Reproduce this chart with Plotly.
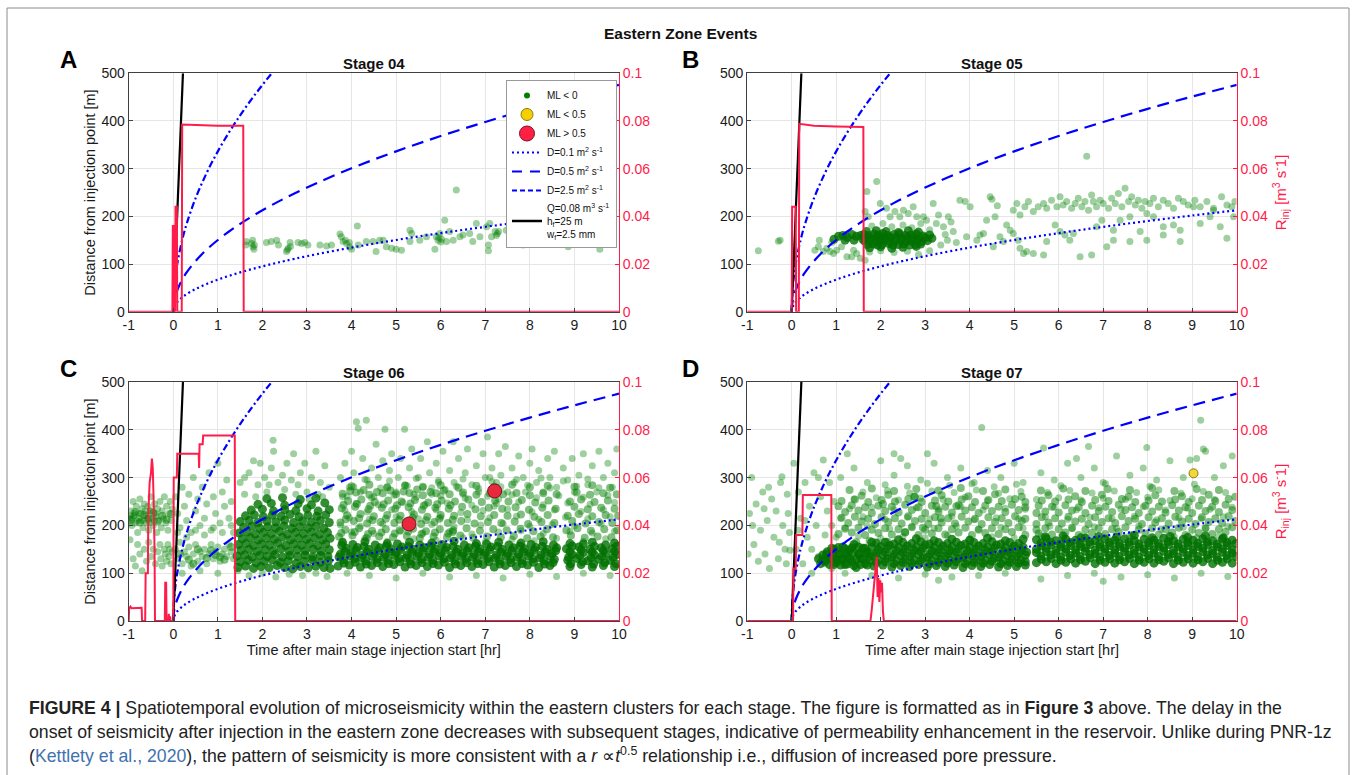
import plotly.graph_objects as go

W, H = 1356, 775

# ---------------- data ----------------
# model curves r(t) (t in hours, r in metres)
CURVE_T = [0, 0.005, 0.01, 0.02, 0.05, 0.1, 0.2, 0.3, 0.5, 0.75, 1, 1.25, 1.5, 1.75, 2, 2.25, 2.5, 3, 4, 5, 6, 7, 8, 9, 10]
R_D01 = [0, 4.8, 6.7, 9.5, 15.0, 21.3, 30.1, 36.8, 47.6, 58.2, 67.3, 75.2, 82.4, 89.0, 95.1, 100.9, 106.3, 116.5, 134.5, 150.4, 164.8, 178.0, 190.2, 201.8, 212.7]
R_D05 = [0, 10.6, 15.0, 21.3, 33.6, 47.6, 67.3, 82.4, 106.3, 130.3, 150.4, 168.2, 184.2, 199.0, 212.7, 225.6, 237.8, 260.5, 300.8, 336.3, 368.4, 397.9, 425.4, 451.2, 475.6]
CURVE_T25 = [0, 0.005, 0.01, 0.02, 0.05, 0.1, 0.2, 0.3, 0.5, 0.75, 1, 1.25, 1.5, 1.75, 2, 2.25, 2.5]
R_D25 = [0, 23.8, 33.6, 47.6, 75.2, 106.3, 150.4, 184.2, 237.8, 291.2, 336.3, 376.0, 411.9, 444.9, 475.6, 504.5, 531.7]
FRAC_T = [0, 0.217]
FRAC_R = [0, 500]

# injection rate (m3/s)
A_RATE_T = [-1, -0.02, -0.01, 0.01, 0.02, 0.04, 0.05, 0.08, 0.09, 0.19, 0.2, 0.6, 1.0, 1.57, 1.58, 10]
A_RATE_Q = [0, 0, 0.036, 0.036, 0, 0, 0.044, 0.044, 0, 0, 0.0785, 0.0782, 0.078, 0.078, 0, 0]
B_RATE_T = [-1, 0, 0.01, 0.09, 0.1, 0.16, 0.17, 0.5, 1.0, 1.61, 1.62, 10]
B_RATE_Q = [0, 0, 0.044, 0.044, 0, 0, 0.0788, 0.078, 0.0777, 0.0775, 0, 0]
C_RATE_T = [-1, -0.99, -0.96, -0.93, -0.71, -0.70, -0.63, -0.62, -0.57, -0.56, -0.53, -0.5, -0.48, -0.46, -0.44, -0.42, -0.41,
            -0.19, -0.18, -0.16, -0.15, -0.11, -0.1, -0.09, -0.07, -0.06, 0.0, 0.01, 0.08, 0.09, 0.57, 0.58, 0.59, 0.66, 0.67, 1.38, 1.39, 10]
C_RATE_Q = [0, 0.005, 0.006, 0.0053, 0.0055, 0, 0, 0.02, 0.02, 0.045, 0.058, 0.062, 0.068, 0.064, 0.05, 0.03, 0,
            0, 0.016, 0.016, 0, 0, 0.003, 0, 0.002, 0, 0, 0.06, 0.06, 0.07, 0.07, 0.064, 0.074, 0.074, 0.0776, 0.0776, 0, 0]
D_RATE_T = [-1, 0.03, 0.04, 0.09, 0.1, 0.24, 0.25, 0.89, 0.9, 1.77, 1.8, 1.84, 1.88, 1.91, 1.93, 1.95, 1.97, 1.99, 2.01, 2.03, 2.05, 2.07, 10]
D_RATE_Q = [0, 0, 0.022, 0.022, 0.036, 0.036, 0.0527, 0.0527, 0, 0, 0.005, 0.012, 0.02, 0.027, 0.01, 0.018, 0.008, 0.017, 0.012, 0.016, 0.004, 0, 0]

# events (t [hr], r [m]), ML < 0
A_EVENTS = [
    (1.63,140),(1.64,147),(1.78,150),(1.79,136),(1.81,131),(1.76,143),(1.82,140),
    (2.09,145),(2.20,147),(2.32,150),(2.36,140),(2.54,126),(2.58,133),(2.62,145),(2.63,137),(2.56,130),
    (2.80,145),(2.88,143),(2.95,145),(3.02,140),(3.29,140),(3.44,138),(3.55,140),
    (3.74,163),(3.77,157),(3.81,147),(3.86,150),(3.89,143),(3.95,145),(3.96,136),(4.00,131),(4.13,180),(4.15,140),
    (4.33,147),(4.48,147),(4.55,126),(4.63,150),(4.71,150),(4.78,136),(4.90,133),(5.00,131),(5.12,129),
    (5.31,171),(5.31,147),(5.35,164),(5.53,150),(5.68,157),
    (5.87,131),(5.90,157),(5.94,150),(5.96,155),(5.98,164),(6.00,146),(6.02,152),(6.09,192),(6.13,147),
    (6.20,168),(6.35,255),(6.28,150),(6.43,157),(6.50,161),
    (6.65,164),(6.72,147),(6.80,185),(6.88,157),
    (7.03,178),(7.07,140),(7.07,128),(7.10,185),(7.14,157),(7.22,168),(7.27,164),(7.30,168),(7.25,160),
    (7.47,171),(7.66,164),(7.85,140),(7.93,171),
    (8.07,168),(8.18,164),(8.25,164),
    (8.52,171),(8.56,164),(8.60,175),(8.67,171),(8.52,166),(8.82,171),(8.86,136),(8.86,143),
    (8.97,185),(9.15,175),(9.19,157),(9.34,168),(9.42,157),(9.57,164),(9.57,131),(9.65,157),(9.72,164),(9.79,171),
]

B_EVENTS = [
    (-0.75,128),(-0.3,148),(-0.26,150),
    (0.52,129),(0.60,136),(0.71,126),(0.79,133),(0.86,126),(0.94,122),(1.01,129),(1.12,136),(1.24,115),(1.35,115),
    (1.39,129),(1.46,122),(1.54,112),(1.65,108),(0.62,150),(0.90,145),
    (1.69,252),(1.65,210),(1.72,199),(1.91,273),(1.99,227),(2.13,217),(2.21,199),(2.32,210),(2.43,199),(2.51,213),
    (2.62,206),(2.73,220),(2.81,199),(2.96,199),(3.03,192),(3.18,227),(3.30,203),(3.41,178),(3.52,199),(3.58,188),
    (3.63,168),(3.78,234),(3.90,231),(4.01,220),(4.16,150),(4.31,164),(4.38,192),(4.46,241),(4.57,199),(4.68,157),
    (4.76,147),(4.91,171),(4.98,164),(5.09,150),(5.13,133),(5.21,122),(5.28,126),(5.43,122),(5.66,119),(5.73,147),
    (5.92,182),(6.03,168),(6.14,161),(6.25,150),(6.33,164),(6.48,115),(6.63,326),(6.74,119),(6.85,178),(6.97,192),
    (7.08,136),(7.23,171),(7.38,192),(7.60,199),(7.83,168),(7.98,206),(8.13,199),(8.35,178),(8.58,182),(8.73,171),
    (9.03,220),(9.40,199),(9.48,213),(9.63,178),(9.78,154),(9.93,199),
    (3.93,157),(4.23,161),(4.53,136),(4.83,182),(7.23,150),(7.60,147),(7.98,150),(8.35,161),(8.73,147),(9.18,185),
    (1.80,180),(2.05,185),(2.25,178),(2.50,182),(2.70,176),(2.90,185),(3.10,172),(1.75,125),(2.00,128),(2.30,124),
    (2.60,127),(2.85,120),(3.10,128),(3.35,140),(3.50,150),(3.45,162),(3.70,145),(3.25,185),
    (4.98,213),(5.06,227),(5.13,203),(5.24,220),(5.32,231),(5.43,210),(5.54,220),(5.66,227),(5.73,217),(5.84,234),
    (5.96,220),(6.03,241),(6.10,224),(6.18,231),(6.29,217),(6.37,227),(6.44,238),(6.52,220),(6.59,231),(6.67,213),
    (6.74,245),(6.78,231),(6.85,220),(6.93,234),(7.00,227),(7.12,217),(7.19,238),(7.27,227),(7.34,248),(7.42,220),
    (7.49,259),(7.57,231),(7.64,241),(7.72,224),(7.79,234),(7.87,217),(7.94,231),(8.05,227),(8.13,238),(8.24,220),
    (8.35,234),(8.46,227),(8.58,217),(8.69,238),(8.80,231),(8.91,224),(9.06,234),(9.18,220),(9.33,231),(9.48,217),
    (9.66,241),(9.78,224),(9.89,220),(9.96,231),(4.50,236),(4.62,222),
]
B_CORE = [
    (1.62,162),(1.72,160),(1.85,163),(1.95,161),(2.05,164),(2.15,160),(2.30,162),(2.42,163),(2.55,160),(2.68,161),(2.80,163),(2.95,159),(3.10,161),
    (1.66,155),(1.78,154),(1.90,156),(2.00,155),(2.10,153),(2.22,156),(2.35,155),(2.48,154),(2.60,156),(2.72,155),(2.85,153),(3.00,155),(3.15,154),
    (1.64,148),(1.75,149),(1.88,147),(1.98,148),(2.08,150),(2.20,147),(2.32,148),(2.45,149),(2.58,147),(2.70,148),(2.82,150),(2.92,147),(3.05,149),
    (1.70,141),(1.82,142),(1.93,140),(2.03,141),(2.18,143),(2.28,140),(2.40,141),(2.52,142),(2.65,140),(2.78,141),(2.90,142),
    (1.68,168),(1.90,170),(2.12,168),(2.40,166),(2.62,170),(2.85,167),(1.75,134),(2.00,136),(2.25,133),(2.50,135),(2.80,137),
    (1.05,158),(1.15,160),(1.25,156),(1.35,162),(1.45,158),(1.55,160),(1.60,152),(0.95,152),(1.20,150),(1.40,150),
]

C_EVENTS = [
    # before injection
    (-0.98,215),(-0.95,230),(-0.93,200),(-0.90,250),(-0.88,220),(-0.85,205),(-0.83,240),(-0.80,185),(-0.78,225),(-0.75,255),
    (-0.72,210),(-0.70,235),(-0.68,195),(-0.65,245),(-0.62,220),(-0.60,205),(-0.57,240),(-0.55,190),(-0.52,230),(-0.50,260),
    (-0.47,215),(-0.45,200),(-0.42,245),(-0.40,225),(-0.37,185),(-0.35,235),(-0.32,210),(-0.30,250),(-0.27,195),(-0.25,230),
    (-0.22,215),(-0.20,260),(-0.17,205),(-0.15,240),(-0.12,190),(-0.10,225),(-0.07,250),(-0.05,210),(-0.02,235),
    (-0.99,205),(-0.96,220),(-0.92,215),(-0.87,225),(-0.82,210),(-0.77,215),(-0.73,225),(-0.67,210),(-0.63,230),(-0.58,215),
    (-0.53,205),(-0.48,230),(-0.43,210),(-0.38,220),
    (-0.97,170),(-0.90,130),(-0.85,115),(-0.80,160),(-0.75,140),(-0.70,105),(-0.65,150),(-0.60,125),(-0.55,165),(-0.50,135),
    (-0.45,150),(-0.40,120),(-0.35,145),(-0.30,160),(-0.28,130),(-0.25,115),(-0.20,150),(-0.18,140),(-0.15,125),(-0.12,160),
    (-0.10,135),(-0.08,150),(-0.05,120),(-0.03,145),
    # 0 - 1.4 h
    (0.05,260),(0.10,225),(0.15,195),(0.20,280),(0.25,240),(0.30,210),(0.35,265),(0.40,185),(0.45,300),(0.50,230),
    (0.55,255),(0.60,200),(0.65,280),(0.70,215),(0.75,245),(0.80,310),(0.85,190),(0.90,260),(0.95,225),(1.00,330),
    (1.05,205),(1.10,270),(1.15,240),(1.20,295),(1.25,215),(1.30,250),(1.35,185),
    (0.05,150),(0.10,130),(0.15,165),(0.20,120),(0.25,145),(0.30,135),(0.35,155),(0.40,115),(0.45,140),(0.50,160),
    (0.55,125),(0.60,145),(0.65,135),(0.70,150),(0.75,120),(0.80,140),(0.85,160),(0.90,130),(0.95,145),(1.00,155),
    (1.05,125),(1.10,140),(1.15,150),(1.20,135),(1.25,160),(1.30,145),(1.35,130),
    (0.10,185),(0.30,175),(0.50,190),(0.70,180),(0.90,195),(1.10,185),(1.30,200),(0.20,100),(0.60,105),(1.00,100),
    # 1.4 - 3.55 h outer
    (1.50,290),(1.60,265),(1.70,310),(1.80,335),(1.90,285),(1.95,330),(2.05,300),(2.10,270),(2.20,320),(2.25,355),
    (2.35,290),(2.45,305),(2.50,275),(2.55,330),(2.65,295),(2.70,350),(2.80,285),(2.85,310),(2.95,330),(3.00,270),
    (3.10,300),(3.20,355),(3.30,290),(3.40,325),(3.50,280),(1.45,105),(1.70,95),(2.00,100),(2.30,92),(2.60,98),
    (2.90,95),(3.20,100),(3.45,93),(1.60,300),(3.25,265),(2.15,285),(2.75,265),(1.85,260),(3.05,255),(3.35,260),(2.24,378),
    # 3.7 - 10 h upper
    (3.75,300),(3.80,260),(3.85,330),(3.95,280),(4.00,355),(4.05,310),(4.11,417),(4.15,403),(4.20,270),(4.25,340),
    (4.33,420),(4.35,295),(4.45,320),(4.50,260),(4.55,370),(4.60,300),(4.70,335),(4.75,401),(4.80,280),(4.85,315),
    (4.90,350),(5.00,270),(5.05,300),(5.10,340),(5.19,401),(5.20,285),(5.30,320),(5.35,360),(5.40,265),(5.50,300),
    (5.55,340),(5.60,280),(5.70,375),(5.75,310),(5.80,265),(5.90,330),(5.95,290),(6.05,355),(6.10,275),(6.20,315),
    (6.28,375),(6.30,290),(6.40,340),(6.50,265),(6.55,310),(6.60,360),(6.70,285),(6.80,325),(6.85,270),(6.95,350),
    (7.00,300),(7.05,385),(7.15,320),(7.25,280),(7.30,350),(7.35,305),(7.45,365),(7.50,270),(7.60,320),(7.65,290),
    (7.75,345),(7.85,300),(7.90,270),(8.00,330),(8.05,360),(8.15,290),(8.20,315),(8.30,270),(8.40,340),(8.45,300),
    (8.55,355),(8.60,280),(8.75,320),(8.85,295),(8.95,340),(9.00,270),(9.10,305),(9.20,350),(9.30,285),(9.40,325),
    (9.50,270),(9.55,355),(9.65,300),(9.75,330),(9.85,280),(9.95,360),(9.90,310),
    (3.90,100),(4.40,95),(5.00,90),(5.60,100),(6.20,92),(6.80,95),(7.40,90),(8.00,98),(8.60,93),(9.20,100),(9.80,95),
    # 3.7 - 10 h middle
    (3.80,168),(4.30,173),(4.80,167),(5.40,172),(5.90,169),(6.50,174),(7.00,166),(7.60,171),(8.10,168),(8.60,173),(9.20,167),(9.70,172),
    (4.00,186),(4.50,183),(5.10,188),(5.60,184),(6.20,187),(6.70,182),(7.30,186),(7.80,189),(8.30,183),(8.90,187),(9.40,184),(9.90,188),
    (3.75,201),(4.20,198),(4.70,203),(5.20,199),(5.80,202),(6.30,197),(6.90,201),(7.40,204),(8.00,198),(8.50,202),(9.00,199),(9.60,203),
    (3.95,216),(4.40,213),(5.00,218),(5.50,214),(6.00,217),(6.60,212),(7.10,216),(7.70,219),(8.20,213),(8.80,217),(9.30,214),(9.80,218),
    (3.85,231),(4.35,228),(4.90,233),(5.35,229),(5.90,232),(6.45,227),(6.95,231),(7.50,234),(8.05,228),(8.55,232),(9.15,229),(9.65,233),
    (4.10,246),(4.60,243),(5.15,248),(5.65,244),(6.15,247),(6.70,242),(7.25,246),(7.75,249),(8.30,243),(8.85,247),(9.35,244),(9.90,248),
    (3.90,261),(4.45,258),(4.95,263),(5.45,259),(6.00,262),(6.55,257),(7.05,261),(7.60,264),(8.15,258),(8.65,262),(9.20,259),(9.75,263),
    (4.05,281),(4.65,278),(5.25,283),(5.80,279),(6.35,282),(6.85,277),(7.35,281),(7.95,284),(8.45,278),(9.05,282),(9.55,279),
    (4.30,296),(4.85,293),(5.45,298),(5.95,294),(6.50,297),(7.15,292),(7.70,296),(8.25,299),(8.75,293),(9.30,297),
    (7.15,270),(7.25,290),(7.10,300),(7.30,255),(7.20,240),
]
C_MID = [
    (3.72,176),(4.02,179),(4.34,174),(4.62,177),(4.93,175),(5.24,178),(5.53,173),(5.84,177),(6.14,175),(6.44,179),(6.73,174),
    (7.04,177),(7.35,175),(7.64,178),(7.94,173),(8.24,177),(8.52,175),(8.92,179),(9.23,174),(9.52,177),(9.83,175),
    (3.86,191),(4.17,194),(4.46,189),(4.77,192),(5.08,190),(5.38,193),(5.67,188),(5.98,192),(6.28,190),(6.58,194),(6.88,189),
    (7.18,192),(7.48,190),(7.79,193),(8.08,188),(8.38,192),(8.82,190),(9.07,194),(9.37,189),(9.67,192),(9.96,190),
    (3.75,206),(4.05,209),(4.35,204),(4.65,207),(4.96,205),(5.26,208),(5.56,203),(5.86,207),(6.16,205),(6.46,209),(6.76,204),
    (7.06,207),(7.36,205),(7.66,208),(7.96,203),(8.26,207),(8.55,205),(8.95,209),(9.25,204),(9.55,207),(9.85,205),
    (3.90,221),(4.20,224),(4.50,219),(4.80,222),(5.10,220),(5.40,223),(5.70,218),(6.00,222),(6.30,220),(6.60,224),(6.90,219),
    (7.20,222),(7.50,220),(7.80,223),(8.10,218),(8.40,222),(8.85,220),(9.10,224),(9.40,219),(9.70,222),(9.98,220),
    (3.78,236),(4.08,239),(4.38,234),(4.68,237),(4.98,235),(5.28,238),(5.58,233),(5.88,237),(6.18,235),(6.48,239),(6.78,234),
    (7.08,237),(7.38,235),(7.68,238),(7.98,233),(8.28,237),(8.58,235),(9.00,239),(9.30,234),(9.60,237),(9.90,235),
    (3.92,251),(4.22,254),(4.52,249),(4.82,252),(5.12,250),(5.42,253),(5.72,248),(6.02,252),(6.32,250),(6.62,254),
    (6.92,249),(7.22,252),(7.52,250),(7.82,253),(8.12,248),(8.42,252),(8.90,250),(9.15,254),(9.45,249),(9.75,252),
    (3.80,266),(4.10,269),(4.40,264),(4.70,267),(5.00,265),(5.30,268),(5.60,263),(5.90,267),(6.20,265),(6.50,269),(6.80,264),
    (7.10,267),(7.40,265),(7.70,268),(8.00,263),(8.30,267),(8.60,265),(9.05,269),(9.35,264),(9.65,267),(9.95,265),
    (4.00,282),(4.40,285),(4.80,280),(5.20,283),(5.60,281),(6.00,284),(6.40,279),(6.80,283),(7.20,281),(7.60,285),
    (8.00,280),(8.40,283),(9.00,281),(9.40,284),(9.80,279),
    (3.77,184),(4.07,186),(4.37,182),(4.67,185),(4.97,183),(5.27,187),(5.57,182),(5.87,185),(6.17,183),(6.27,186),
    (3.87,213),(4.17,215),(4.47,211),(4.77,214),(5.07,212),(5.37,216),(5.67,211),(5.97,214),(6.27,212),
    (3.82,243),(4.12,245),(4.42,241),(4.72,244),(5.02,242),(5.32,246),(5.62,241),(5.92,244),(6.22,242),
    (3.97,272),(4.27,274),(4.57,270),(4.87,273),(5.17,271),(5.47,275),(5.77,270),(6.07,273),
    (-0.95,212),(-0.85,228),(-0.75,206),(-0.65,222),(-0.55,214),(-0.45,226),(-0.35,208),(-0.25,220),(-0.15,212),(-0.05,224),
    (0.15,140),(0.35,128),(0.55,150),(0.75,132),(0.95,138),(1.15,128),(1.30,155),(0.45,120),(0.85,148),(1.05,134),
]
C_CORE = [
    (1.45,112),(1.62,115),(1.80,110),(1.97,114),(2.15,111),(2.33,116),(2.50,112),(2.68,109),(2.85,114),(3.03,111),(3.20,115),(3.38,112),(3.52,110),
    (1.50,124),(1.68,127),(1.86,122),(2.04,125),(2.22,128),(2.40,123),(2.58,126),(2.76,121),(2.94,125),(3.12,128),(3.30,123),(3.48,126),
    (1.43,136),(1.60,138),(1.77,134),(1.94,137),(2.11,135),(2.28,139),(2.45,134),(2.62,137),(2.79,135),(2.96,138),(3.13,134),(3.30,137),(3.47,135),
    (1.52,148),(1.70,150),(1.88,146),(2.06,149),(2.24,147),(2.42,151),(2.60,146),(2.78,149),(2.96,147),(3.14,150),(3.32,146),(3.50,149),
    (1.46,160),(1.63,162),(1.80,158),(1.98,161),(2.16,159),(2.34,163),(2.52,158),(2.70,161),(2.88,159),(3.06,162),(3.24,158),(3.42,161),
    (1.55,172),(1.73,174),(1.91,170),(2.09,173),(2.27,171),(2.45,175),(2.63,170),(2.81,173),(2.99,171),(3.17,174),(3.35,170),(3.52,173),
    (1.48,184),(1.66,186),(1.84,182),(2.02,185),(2.20,183),(2.38,187),(2.56,182),(2.74,185),(2.92,183),(3.10,186),(3.28,182),(3.46,185),
    (1.58,196),(1.76,198),(1.94,194),(2.12,197),(2.30,195),(2.48,199),(2.66,194),(2.84,197),(3.02,195),(3.20,198),(3.38,194),
    (1.50,208),(1.70,210),(1.90,206),(2.10,209),(2.30,207),(2.50,211),(2.70,206),(2.90,209),(3.10,207),(3.30,210),(3.50,206),
    (1.62,220),(1.82,222),(2.02,218),(2.22,221),(2.42,219),(2.62,223),(2.82,218),(3.02,221),(3.22,219),(3.42,222),
    (1.75,232),(2.00,234),(2.25,230),(2.50,233),(2.75,231),(3.00,235),(3.25,230),(3.50,233),
    (1.90,244),(2.20,246),(2.50,242),(2.80,245),(3.10,243),(3.40,247),
    (2.10,256),(2.45,258),(2.85,254),(3.20,257),
    (3.70,115),(3.95,117),(4.20,113),(4.45,116),(4.70,114),(4.95,118),(5.20,113),(5.45,116),(5.70,114),(5.95,117),(6.20,112),(6.45,116),(6.70,114),
    (6.95,118),(7.20,113),(7.45,116),(7.70,114),(7.95,117),(8.20,112),(8.45,116),(8.90,114),(9.15,118),(9.40,113),(9.65,116),(9.90,114),
    (3.82,128),(4.07,130),(4.32,126),(4.57,129),(4.82,127),(5.07,131),(5.32,126),(5.57,129),(5.82,127),(6.07,130),(6.32,126),(6.57,129),(6.82,127),
    (7.07,131),(7.32,126),(7.57,129),(7.82,127),(8.07,130),(8.32,126),(8.55,129),(8.85,127),(9.05,131),(9.30,126),(9.55,129),(9.80,127),
    (3.75,140),(4.00,142),(4.25,138),(4.50,141),(4.75,139),(5.00,143),(5.25,138),(5.50,141),(5.75,139),(6.00,142),(6.25,138),(6.50,141),(6.75,139),
    (7.00,143),(7.25,138),(7.50,141),(7.75,139),(8.00,142),(8.25,138),(8.50,141),(8.95,139),(9.20,143),(9.45,138),(9.70,141),(9.95,139),
    (3.88,152),(4.13,154),(4.38,150),(4.63,153),(4.88,151),(5.13,155),(5.38,150),(5.63,153),(5.88,151),(6.13,154),(6.38,150),(6.63,153),(6.88,151),
    (7.13,155),(7.38,150),(7.63,153),(7.88,151),(8.13,154),(8.38,150),(8.60,153),(8.82,151),(9.10,155),(9.35,150),(9.60,153),(9.85,151),
    (3.80,164),(4.30,166),(4.80,162),(5.30,165),(5.80,163),(6.30,167),(6.80,162),(7.30,165),(7.80,163),(8.30,166),(8.90,162),(9.40,165),(9.90,163),
    (3.83,121),(4.08,123),(4.33,119),(4.58,122),(4.83,120),(5.08,124),(5.33,119),(5.58,122),(5.83,120),(6.08,123),(6.33,119),(6.58,122),(6.83,120),
    (7.08,124),(7.33,119),(7.58,122),(7.83,120),(8.08,123),(8.33,119),(8.52,122),(8.92,120),(9.18,124),(9.43,119),(9.68,122),(9.93,120),
    (3.72,134),(3.97,136),(4.22,132),(4.47,135),(4.72,133),(4.97,137),(5.22,132),(5.47,135),(5.72,133),(5.97,136),(6.22,132),(6.47,135),(6.72,133),
    (6.97,137),(7.22,132),(7.47,135),(7.72,133),(7.97,136),(8.22,132),(8.47,135),(8.87,133),(9.12,137),(9.37,132),(9.62,135),(9.87,133),
    (3.85,146),(4.10,148),(4.35,144),(4.60,147),(4.85,145),(5.10,149),(5.35,144),(5.60,147),(5.85,145),(6.10,148),(6.35,144),(6.60,147),(6.85,145),
    (7.10,149),(7.35,144),(7.60,147),(7.85,145),(8.10,148),(8.35,144),(8.58,147),(8.90,145),(9.15,149),(9.40,144),(9.65,147),(9.90,145),
    (3.78,158),(4.03,160),(4.28,156),(4.53,159),(4.78,157),(5.03,161),(5.28,156),(5.53,159),(5.78,157),(6.03,160),(6.28,156),(6.53,159),(6.78,157),
    (7.03,161),(7.28,156),(7.53,159),(7.78,157),(8.03,160),(8.28,156),(8.53,159),(8.95,157),(9.20,161),(9.45,156),(9.70,159),(9.95,157),
]
C_BIG = [(5.29, 203), (7.21, 272)]  # ML > 0.5

D_EVENTS = [
    # before injection and first hour
    (-0.95,225),(-0.90,300),(-0.85,160),(-0.80,245),(-0.75,125),(-0.70,190),(-0.65,270),(-0.60,140),(-0.55,210),(-0.50,110),
    (-0.45,255),(-0.40,175),(-0.35,230),(-0.30,130),(-0.25,290),(-0.20,200),(-0.15,150),(-0.10,265),(-0.05,185),(-0.98,140),
    (-0.62,235),(-0.28,165),(-0.12,120),(-0.88,200),(-0.52,280),(-0.22,302),(-0.08,225),(-0.04,148),
    (0.05,330),(0.10,150),(0.15,270),(0.20,215),(0.25,120),(0.30,290),(0.35,175),(0.40,240),(0.45,100),(0.50,310),
    (0.55,200),(0.60,135),(0.65,260),(0.71,337),(0.75,180),(0.80,230),(0.85,290),(0.90,110),(0.95,250),(0.30,210),
    (0.60,300),(0.90,200),(0.45,150),(0.15,190),(0.75,120),
    # upper scatter
    (1.10,300),(1.40,320),(1.70,290),(2.00,335),(2.30,305),(2.60,325),(2.90,295),(3.20,330),(3.50,300),(3.80,320),
    (4.10,290),(4.27,405),(4.40,315),(4.70,300),(5.00,330),(5.20,290),(5.60,310),(5.90,295),(6.20,330),(6.50,300),
    (6.80,320),(7.00,290),(7.30,345),(7.60,305),(7.90,320),(8.20,295),(8.50,335),(8.80,300),(9.19,420),(9.10,340),
    (9.30,355),(9.50,300),(9.70,325),(9.90,345),(6.40,340),(3.05,350),(2.45,340),(1.25,350),(7.98,363),(6.67,365),
    (5.66,362),(8.95,337),(9.25,360),(2.30,350),
    # lower scatter
    (1.20,100),(1.80,95),(2.40,90),(3.00,98),(3.60,92),(4.20,95),(4.80,100),(5.60,88),(6.20,95),(6.80,100),
    (7.40,92),(8.00,97),(8.60,90),(9.20,100),(9.80,93),(7.00,83),(3.30,85),
    # middle cloud
    (1.00,175),(1.50,178),(2.00,173),(2.50,177),(3.00,174),(3.50,179),(4.00,172),(4.50,176),(5.00,174),(5.60,178),(6.10,173),(6.60,177),
    (7.10,174),(7.60,179),(8.10,172),(8.60,176),(9.10,174),(9.60,178),
    (1.20,195),(1.70,198),(2.20,193),(2.70,197),(3.20,194),(3.70,199),(4.20,192),(4.70,196),(5.20,194),(5.80,198),(6.30,193),(6.80,197),
    (7.30,194),(7.80,199),(8.30,192),(8.80,196),(9.30,194),(9.80,198),
    (1.10,215),(1.60,218),(2.10,213),(2.60,217),(3.10,214),(3.60,219),(4.10,212),(4.60,216),(5.10,214),(5.70,218),(6.20,213),(6.70,217),
    (7.20,214),(7.70,219),(8.20,212),(8.70,216),(9.20,214),(9.70,218),
    (1.30,235),(1.80,238),(2.30,233),(2.80,237),(3.30,234),(3.80,239),(4.30,232),(4.80,236),(5.25,234),(5.90,238),(6.40,233),(6.90,237),
    (7.40,234),(7.90,239),(8.40,232),(8.90,236),(9.40,234),(9.90,238),
    (1.40,255),(1.90,258),(2.40,253),(2.90,257),(3.40,254),(3.90,259),(4.40,252),(4.90,256),(5.50,254),(6.00,258),(6.50,253),(7.00,257),
    (7.50,254),(8.00,259),(8.50,252),(9.00,256),(9.50,254),
    (1.60,270),(2.15,273),(2.65,268),(3.15,272),(3.65,269),(4.15,274),(4.65,267),(5.15,271),(5.75,269),(6.25,273),(6.75,268),(7.25,272),
    (7.75,269),(8.25,274),(8.75,267),(9.25,271),(9.75,269),
    (2.10,285),(2.60,282),(3.05,288),(3.55,284),(4.05,287),(4.55,281),(5.05,286),(6.05,283),(7.05,287),(8.05,282),(9.05,286),
]
D_MID = [
    (1.05,182),(1.35,185),(1.65,180),(1.95,184),(2.25,181),(2.55,186),(2.85,180),(3.15,183),(3.45,181),(3.75,185),
    (4.05,180),(4.35,184),(4.65,182),(4.95,186),(5.25,180),(5.55,183),(5.85,181),(6.15,185),(6.45,180),(6.75,184),
    (7.05,182),(7.35,186),(7.65,180),(7.95,183),(8.25,181),(8.55,185),(8.85,180),(9.15,184),(9.45,182),(9.75,186),
    (1.20,193),(1.50,195),(1.80,191),(2.10,194),(2.40,192),(2.70,196),(3.00,191),(3.30,194),(3.60,192),(3.90,195),
    (4.20,191),(4.50,194),(4.80,192),(5.10,196),(5.50,191),(5.70,194),(6.00,192),(6.30,195),(6.60,191),(6.90,194),
    (7.20,192),(7.50,196),(7.80,191),(8.10,194),(8.40,192),(8.70,195),(9.00,191),(9.30,194),(9.60,192),(9.90,196),
    (1.27,205),(1.57,208),(1.87,203),(2.17,207),(2.47,204),(2.77,209),(3.07,203),(3.37,206),(3.67,204),(3.97,208),
    (4.27,203),(4.57,207),(4.87,205),(5.17,209),(5.50,203),(5.77,206),(6.07,204),(6.37,208),(6.67,203),(6.97,207),
    (7.27,205),(7.57,209),(7.87,203),(8.17,206),(8.47,204),(8.77,208),(9.07,203),(9.37,207),(9.67,205),(9.97,209),
    (1.12,216),(1.42,218),(1.72,214),(2.02,217),(2.32,215),(2.62,219),(2.92,214),(3.22,217),(3.52,215),(3.82,218),
    (4.12,214),(4.42,217),(4.72,215),(5.02,219),(5.25,214),(5.62,217),(5.92,215),(6.22,218),(6.52,214),(6.82,217),
    (7.12,215),(7.42,219),(7.72,214),(8.02,217),(8.32,215),(8.62,218),(8.92,214),(9.22,217),(9.52,215),(9.82,219),
    (1.20,228),(1.50,231),(1.80,226),(2.10,230),(2.40,227),(2.70,232),(3.00,226),(3.30,229),(3.60,227),(3.90,231),
    (4.20,226),(4.50,230),(4.80,228),(5.10,232),(5.50,226),(5.70,229),(6.00,227),(6.30,231),(6.60,226),(6.90,230),
    (7.20,228),(7.50,232),(7.80,226),(8.10,229),(8.40,227),(8.70,231),(9.00,226),(9.30,230),(9.60,228),(9.90,232),
    (1.05,240),(1.35,242),(1.65,238),(1.95,241),(2.25,239),(2.55,243),(2.85,238),(3.15,241),(3.45,239),(3.75,242),
    (4.05,238),(4.35,241),(4.65,239),(4.95,243),(5.25,238),(5.55,241),(5.85,239),(6.15,242),(6.45,238),(6.75,241),
    (7.05,239),(7.35,243),(7.65,238),(7.95,241),(8.25,239),(8.55,242),(8.85,238),(9.15,241),(9.45,239),(9.75,243),
    (1.12,251),(1.42,254),(1.72,249),(2.02,253),(2.32,250),(2.62,255),(2.92,249),(3.22,252),(3.52,250),(3.82,254),
    (4.12,249),(4.42,253),(4.72,251),(5.02,255),(5.25,249),(5.62,252),(5.92,250),(6.22,254),(6.52,249),(6.82,253),
    (7.12,251),(7.42,255),(7.72,249),(8.02,252),(8.32,250),(8.62,254),(8.92,249),(9.22,253),(9.52,251),(9.82,255),
    (1.57,262),(2.17,264),(2.77,260),(3.37,263),(3.97,261),(4.57,265),(5.17,260),(5.77,263),(6.37,261),(6.97,264),
    (7.57,260),(8.17,263),(8.77,261),(9.37,264),(9.97,260),
    (1.30,274),(1.80,277),(2.30,272),(2.80,276),(3.30,273),(3.80,278),(4.30,272),(4.80,275),(5.60,273),(6.10,277),
    (6.60,272),(7.10,276),(7.60,274),(8.10,278),(8.60,272),(9.10,276),(9.60,274),
    (1.45,165),(1.75,168),(2.15,166),(2.55,185),(2.95,195),(3.35,215),(3.70,240),(2.05,245),(2.75,260),(3.25,240),
]
D_CORE = [
    (0.60,130),(0.65,120),(0.70,138),(0.75,125),(0.80,145),(0.85,118),(0.90,132),(0.95,150),(1.00,122),(1.05,140),
    (1.10,128),(1.15,155),(1.20,118),(1.25,135),(1.30,148),(1.35,125),(1.40,160),(1.45,112),(1.50,140),(1.55,130),
    (1.60,152),(1.65,120),(1.70,145),(1.75,135),(1.80,165),
    (0.70,128),(0.85,130),(1.00,127),(1.15,129),(1.30,131),(1.45,128),(1.60,130),(1.75,127),
    (0.78,140),(0.92,142),(1.08,139),(1.22,141),(1.38,143),(1.52,140),(1.68,142),
    (0.90,152),(1.05,154),(1.20,151),(1.35,153),(1.50,155),(1.65,152),(1.80,154),
    (0.95,118),(1.10,117),(1.25,119),(1.40,116),(1.55,118),(1.70,117),
    (1.85,115),(2.05,117),(2.25,113),(2.45,116),(2.65,114),(2.85,118),(3.05,113),(3.25,116),(3.45,114),(3.65,117),
    (3.85,112),(4.05,116),(4.25,114),(4.45,118),(4.65,113),(4.85,116),(5.05,114),(5.25,117),
    (1.95,128),(2.15,130),(2.35,126),(2.55,129),(2.75,127),(2.95,131),(3.15,126),(3.35,129),(3.55,127),(3.75,130),
    (3.95,126),(4.15,129),(4.35,127),(4.55,131),(4.75,126),(4.95,129),(5.15,127),
    (1.90,142),(2.10,144),(2.30,140),(2.50,143),(2.70,141),(2.90,145),(3.10,140),(3.30,143),(3.50,141),(3.70,144),
    (3.90,140),(4.10,143),(4.30,141),(4.50,145),(4.70,140),(4.90,143),(5.10,141),(5.28,144),
    (2.00,156),(2.20,158),(2.40,154),(2.60,157),(2.80,155),(3.00,159),(3.20,154),(3.40,157),(3.60,155),(3.80,158),
    (4.00,154),(4.20,157),(4.40,155),(4.60,159),(4.80,154),(5.00,157),(5.20,155),
    (2.40,170),(2.80,172),(3.20,168),(3.60,171),(4.00,169),(4.40,173),(4.80,168),(5.20,171),
    (1.90,122),(2.10,124),(2.30,120),(2.50,123),(2.70,121),(2.90,125),(3.10,120),(3.30,123),(3.50,121),(3.70,124),
    (3.90,120),(4.10,123),(4.30,121),(4.50,125),(4.70,120),(4.90,123),(5.10,121),(5.25,124),
    (1.85,136),(2.05,138),(2.25,134),(2.45,137),(2.65,135),(2.85,139),(3.05,134),(3.25,137),(3.45,135),(3.65,138),
    (3.85,134),(4.05,137),(4.25,135),(4.45,139),(4.65,134),(4.85,137),(5.05,135),(5.25,138),
    (1.95,149),(2.15,151),(2.35,147),(2.55,150),(2.75,148),(2.95,152),(3.15,147),(3.35,150),(3.55,148),(3.75,151),
    (3.95,147),(4.15,150),(4.35,148),(4.55,152),(4.75,147),(4.95,150),(5.15,148),
    (1.90,163),(2.10,165),(2.30,161),(2.50,164),(2.70,162),(2.90,166),(3.10,161),(3.30,164),(3.50,162),(3.70,165),
    (3.90,161),(4.10,164),(4.30,162),(4.50,166),(4.70,161),(4.90,164),(5.10,162),
    (5.50,122),(5.72,124),(5.94,120),(6.16,123),(6.38,121),(6.60,125),(6.82,120),(7.04,123),(7.26,121),(7.48,124),
    (7.70,120),(7.92,123),(8.14,121),(8.36,125),(8.58,120),(8.80,123),(9.02,121),(9.24,124),(9.46,120),(9.68,123),(9.90,121),
    (5.60,136),(5.82,138),(6.04,134),(6.26,137),(6.48,135),(6.70,139),(6.92,134),(7.14,137),(7.36,135),(7.58,138),
    (7.80,134),(8.02,137),(8.24,135),(8.46,139),(8.68,134),(8.90,137),(9.12,135),(9.34,138),(9.56,134),(9.78,137),(9.98,135),
    (5.50,150),(5.72,152),(5.94,148),(6.16,151),(6.38,149),(6.60,153),(6.82,148),(7.04,151),(7.26,149),(7.48,152),
    (7.70,148),(7.92,151),(8.14,149),(8.36,153),(8.58,148),(8.80,151),(9.02,149),(9.24,152),(9.46,148),(9.68,151),(9.90,149),
    (5.60,163),(5.82,165),(6.04,161),(6.26,164),(6.48,162),(6.70,166),(6.92,161),(7.14,164),(7.36,162),(7.58,165),
    (7.80,161),(8.02,164),(8.24,162),(8.46,166),(8.68,161),(8.90,164),(9.12,162),(9.34,165),(9.56,161),(9.78,164),(9.98,162),
    (5.70,176),(6.10,178),(6.50,174),(6.90,177),(7.30,175),(7.70,179),(8.10,174),(8.50,177),(8.90,175),(9.30,178),(9.70,174),
    (5.61,129),(5.83,131),(6.05,127),(6.27,130),(6.49,128),(6.71,132),(6.93,127),(7.15,130),(7.37,128),(7.59,131),
    (7.81,127),(8.03,130),(8.25,128),(8.47,132),(8.69,127),(8.91,130),(9.13,128),(9.35,131),(9.57,127),(9.79,130),
    (5.50,143),(5.72,145),(5.94,141),(6.16,144),(6.38,142),(6.60,146),(6.82,141),(7.04,144),(7.26,142),(7.48,145),
    (7.70,141),(7.92,144),(8.14,142),(8.36,146),(8.58,141),(8.80,144),(9.02,142),(9.24,145),(9.46,141),(9.68,144),(9.90,142),
    (5.61,157),(5.83,159),(6.05,155),(6.27,158),(6.49,156),(6.71,160),(6.93,155),(7.15,158),(7.37,156),(7.59,159),
    (7.81,155),(8.03,158),(8.25,156),(8.47,160),(8.69,155),(8.91,158),(9.13,156),(9.35,159),(9.57,155),(9.79,158),
    (5.50,170),(5.72,172),(5.94,168),(6.16,171),(6.38,169),(6.60,173),(6.82,168),(7.04,171),(7.26,169),(7.48,172),
    (7.70,168),(7.92,171),(8.14,169),(8.36,173),(8.58,168),(8.80,171),(9.02,169),(9.24,172),(9.46,168),(9.68,171),(9.90,169),
]
D_YELLOW = [(9.03, 309)]  # ML < 0.5

TICK_X = [-1, 0, 1, 2, 3, 4, 5, 6, 7, 8, 9, 10]
STAGES = ["Stage 04", "Stage 05", "Stage 06", "Stage 07"]
LETTERS = ["A", "B", "C", "D"]

# ---------------- styling ----------------
FONT = "Liberation Sans, Arial, Helvetica, sans-serif"
RED = "#ff1c4a"
BLUE = "#0000ff"
GREEN_LIGHT = "rgba(0,128,0,0.38)"
GREEN_MID = "rgba(0,125,0,0.5)"
GREEN_DARK = "rgba(0,112,0,0.8)"
AXCOL = "#404040"
GRID = "#e6e6e6"

# panel pixel boxes (left, right, top, bottom)
BOX = [(128.7, 619.0, 73.3, 311.7), (747.2, 1236.7, 73.3, 311.7),
       (128.7, 619.0, 382.0, 621.0), (747.2, 1236.7, 382.0, 621.0)]

fig = go.Figure()


def unz(pts):
    return [p[0] for p in pts], [p[1] for p in pts]


panels = [
    (A_EVENTS, [], [], A_RATE_T, A_RATE_Q),
    (B_EVENTS, [], B_CORE, B_RATE_T, B_RATE_Q),
    (C_EVENTS, C_MID, C_CORE, C_RATE_T, C_RATE_Q),
    (D_EVENTS, D_MID, D_CORE, D_RATE_T, D_RATE_Q),
]

for i, (ev, mid, core, rt, rq) in enumerate(panels):
    n = i + 1
    xa = "x" if n == 1 else f"x{n}"
    ya = "y" if n == 1 else f"y{n}"
    yr = f"y{n + 4}"
    for pts, col, sz in ((ev, GREEN_LIGHT, 7), (mid, GREEN_MID, 8), (core, GREEN_DARK, 9)):
        if not pts:
            continue
        tx, ry = unz(pts)
        fig.add_trace(go.Scatter(x=tx, y=ry, mode="markers", xaxis=xa, yaxis=ya, showlegend=False,
                                 marker=dict(size=sz, color=col, line=dict(width=0))))
    if n == 3:
        tx, ry = unz(C_BIG)
        fig.add_trace(go.Scatter(x=tx, y=ry, mode="markers", xaxis=xa, yaxis=ya, showlegend=False,
                                 marker=dict(size=14, color="#e8283c", line=dict(width=1, color="#7a1020"))))
    if n == 4:
        tx, ry = unz(D_YELLOW)
        fig.add_trace(go.Scatter(x=tx, y=ry, mode="markers", xaxis=xa, yaxis=ya, showlegend=False,
                                 marker=dict(size=9, color="#f0d838", line=dict(width=1, color="#8a7a10"))))
    fig.add_trace(go.Scatter(x=CURVE_T, y=R_D01, mode="lines", xaxis=xa, yaxis=ya, showlegend=False,
                             line=dict(color=BLUE, width=2.2, dash="2px,3px", shape="spline")))
    fig.add_trace(go.Scatter(x=CURVE_T, y=R_D05, mode="lines", xaxis=xa, yaxis=ya, showlegend=False,
                             line=dict(color=BLUE, width=2.2, dash="12px,7px", shape="spline")))
    fig.add_trace(go.Scatter(x=CURVE_T25, y=R_D25, mode="lines", xaxis=xa, yaxis=ya, showlegend=False,
                             line=dict(color=BLUE, width=2.2, dash="7px,3px,2px,3px", shape="spline")))
    fig.add_trace(go.Scatter(x=FRAC_T, y=FRAC_R, mode="lines", xaxis=xa, yaxis=ya, showlegend=False,
                             line=dict(color="black", width=2.2)))
    fig.add_trace(go.Scatter(x=rt, y=rq, mode="lines", xaxis=xa, yaxis=yr, showlegend=False,
                             line=dict(color=RED, width=2)))

# legend entries
leg = [
    ("ML < 0", dict(mode="markers", marker=dict(size=6, color="#008000"))),
    ("ML < 0.5", dict(mode="markers", marker=dict(size=12, color="#f5d000", line=dict(width=1, color="#8a7a10")))),
    ("ML > 0.5", dict(mode="markers", marker=dict(size=15, color="#ff1f45", line=dict(width=1, color="#7a1020")))),
    ("D=0.1 m<sup>2</sup> s<sup>-1</sup>", dict(mode="lines", line=dict(color=BLUE, width=2.2, dash="2px,3px"))),
    ("D=0.5 m<sup>2</sup> s<sup>-1</sup>", dict(mode="lines", line=dict(color=BLUE, width=2.2, dash="10px,8px"))),
    ("D=2.5 m<sup>2</sup> s<sup>-1</sup>", dict(mode="lines", line=dict(color=BLUE, width=2.2, dash="5px,3px"))),
    ("Q=0.08 m<sup>3</sup> s<sup>-1</sup><br>h<sub>f</sub>=25 m<br>w<sub>f</sub>=2.5 mm",
     dict(mode="lines", line=dict(color="black", width=2.5))),
]
for k, (name, kw) in enumerate(leg):
    fig.add_trace(go.Scatter(x=[None], y=[None], name=name, xaxis="x", yaxis="y", showlegend=True,
                             legendrank=k + 1, **kw))

layout = dict(
    width=W, height=H, margin=dict(l=0, r=0, t=0, b=0, pad=0, autoexpand=False),
    paper_bgcolor="white", plot_bgcolor="white",
    font=dict(family=FONT, size=14, color="#1a1a1a"),
    legend=dict(x=617 / W, xanchor="right", y=1 - 80 / H, yanchor="top", bgcolor="white",
                bordercolor="#9a9a9a", borderwidth=1, font=dict(size=10, color="#111"),
                itemwidth=30, tracegroupgap=0, traceorder="normal"),
    showlegend=True,
)

for i, (l, r, t, b) in enumerate(BOX):
    n = i + 1
    xk = "xaxis" if n == 1 else f"xaxis{n}"
    yk = "yaxis" if n == 1 else f"yaxis{n}"
    yrk = f"yaxis{n + 4}"
    xa = "x" if n == 1 else f"x{n}"
    ya = "y" if n == 1 else f"y{n}"
    layout[xk] = dict(domain=[l / W, r / W], range=[-1, 10], tickvals=TICK_X,
                      ticktext=[str(v) for v in TICK_X], anchor=ya, automargin=False,
                      showgrid=True, gridcolor=GRID, zeroline=False, showline=True, linecolor=AXCOL,
                      mirror=True, ticks="inside", ticklen=4, tickcolor=AXCOL,
                      tickfont=dict(size=14, color="#1a1a1a"),
                      title=dict(text="Time after main stage injection start [hr]" if n >= 3 else "",
                                 font=dict(size=14.5), standoff=4))
    layout[yk] = dict(domain=[1 - b / H, 1 - t / H], range=[0, 500], dtick=100, anchor=xa, automargin=False,
                      showgrid=True, gridcolor=GRID, zeroline=False, showline=True, linecolor=AXCOL,
                      ticks="inside", ticklen=4, tickcolor=AXCOL, tickfont=dict(size=14, color="#1a1a1a"),
                      title=dict(text="Distance from injection point [m]" if n in (1, 3) else "",
                                 font=dict(size=14.5), standoff=2))
    layout[yrk] = dict(range=[0, 0.1], dtick=0.02, overlaying=ya, anchor=xa, side="right", automargin=False,
                       showgrid=False, zeroline=False, showline=True, linecolor=RED,
                       ticks="inside", ticklen=4, tickcolor=RED, tickfont=dict(size=14, color=RED),
                       title=dict(text="R<sub>inj</sub> [m<sup>3</sup> s<sup>-</sup>1]" if n in (2, 4) else "",
                                  font=dict(size=15, color=RED), standoff=8))

fig.update_layout(**layout)

ann = []
ann.append(dict(text="<b>Eastern Zone Events</b>", x=680 / W, y=1 - 33 / H, xref="paper", yref="paper",
                showarrow=False, font=dict(size=15.5, color="#111"), xanchor="center", yanchor="middle"))
for i, (l, r, t, b) in enumerate(BOX):
    ann.append(dict(text=f"<b>{STAGES[i]}</b>", x=(l + r) / 2 / W, y=1 - (t - 10) / H, xref="paper",
                    yref="paper", showarrow=False, font=dict(size=15, color="#111"),
                    xanchor="center", yanchor="middle"))
    lx = 68 if i % 2 == 0 else 690
    ann.append(dict(text=f"<b>{LETTERS[i]}</b>", x=lx / W, y=1 - (t - 14) / H, xref="paper", yref="paper",
                    showarrow=False, font=dict(size=24, color="#000"), xanchor="center", yanchor="middle"))

CAPTION = [
    "<b>FIGURE 4 |</b> Spatiotemporal evolution of microseismicity within the eastern clusters for each stage. "
    "The figure is formatted as in <b>Figure 3</b> above. The delay in the",
    "onset of seismicity after injection in the eastern zone decreases with subsequent stages, indicative of "
    "permeability enhancement in the reservoir. Unlike during PNR-1z",
    "(<span style='color:#3f72af'>Kettlety et al., 2020</span>), the pattern of seismicity is more consistent "
    "with a <i>r</i> \u221d<i>t</i><sup>0.5</sup> relationship i.e., diffusion of increased pore pressure.",
]
for k, line in enumerate(CAPTION):
    ann.append(dict(text=line, x=27 / W, y=1 - (708 + 23.5 * k) / H, xref="paper", yref="paper",
                    showarrow=False, font=dict(size=17.7, color="#222"), xanchor="left", yanchor="middle",
                    align="left"))
fig.update_layout(annotations=ann)

fig.add_shape(type="rect", xref="paper", yref="paper", x0=7 / W, x1=1349 / W, y0=-0.05, y1=1 - 8 / H,
              line=dict(color="#8c8c8c", width=1), fillcolor="rgba(0,0,0,0)", layer="below")

fig.write_html("out.html", post_script="document.body.style.margin='0px';")
